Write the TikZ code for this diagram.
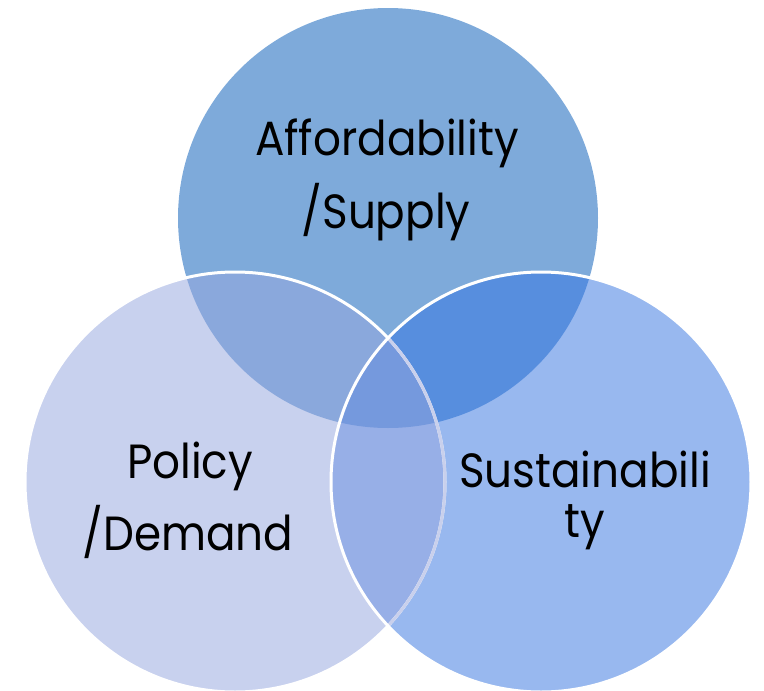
\documentclass[tikz,border=0pt]{standalone}
\usepackage{fontspec}
\setmainfont{Poppins}[FakeStretch=0.91]
\begin{document}
\begin{tikzpicture}[x=1pt,y=-1pt,
  lbl/.style={anchor=base,inner sep=0pt,text=black,font=\fontsize{48}{58}\selectfont}]
\definecolor{cTop}{HTML}{7EAADA}
\definecolor{cLeft}{HTML}{C8D1EE}
\definecolor{cRight}{HTML}{98B8EF}
\definecolor{cTL}{HTML}{8AA8DC}
\definecolor{cTR}{HTML}{578EDE}
\definecolor{cLR}{HTML}{97AFE7}
\definecolor{cAll}{HTML}{7599DD}
\definecolor{cFaint}{HTML}{C9D0EC}
\useasboundingbox (0,0) rectangle (764,691);
\clip (0,0) rectangle (764,691);
\def\R{210}
\coordinate (ct) at (388,218);
\coordinate (cl) at (235,482);
\coordinate (cr) at (541,482);
% single circles
\fill[cTop]   (ct) circle[radius=\R];
\fill[cLeft]  (cl) circle[radius=\R];
\fill[cRight] (cr) circle[radius=\R];
% pairwise overlaps
\begin{scope}
  \clip (ct) circle[radius=\R];
  \fill[cTL] (cl) circle[radius=\R];
  \fill[cTR] (cr) circle[radius=\R];
\end{scope}
\begin{scope}
  \clip (cl) circle[radius=\R];
  \fill[cLR] (cr) circle[radius=\R];
\end{scope}
% triple overlap
\begin{scope}
  \clip (ct) circle[radius=\R];
  \clip (cl) circle[radius=\R];
  \fill[cAll] (cr) circle[radius=\R];
\end{scope}
% outlines
\draw[white,line width=3pt] (cl) circle[radius=\R];
\begin{scope}
  \clip (cr) circle[radius=\R];
  \draw[cFaint,line width=3pt] (cl) circle[radius=\R];
\end{scope}
\draw[white,line width=3pt] (cr) circle[radius=\R];
% labels
\node[lbl] (t1) at (387,155) {Affordability};
\node[lbl] (t2) at (386,228) {/Supply};
\node[lbl] (l1) at (190,478) {Policy};
\node[lbl] (l2) at (188,550) {/Demand};
\node[lbl] (r1) at (585,487) {Sustainabili};
\node[lbl] (r2) at (585,537) {ty};
\end{tikzpicture}
\end{document}
